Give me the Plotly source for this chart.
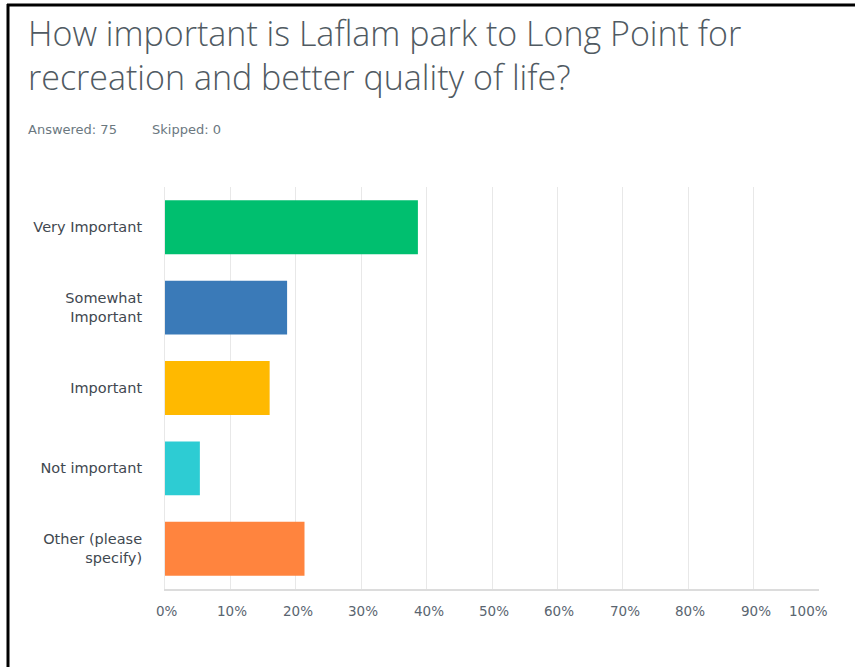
import plotly.graph_objects as go

categories = ["Very Important", "Somewhat<br>Important", "Important", "Not important", "Other (please<br>specify)"]
percent = [38.67, 18.67, 16.0, 5.33, 21.33]
colors = ["#00BF6F", "#3A7AB8", "#FFB900", "#2DCCD3", "#FF843E"]
tick_vals = [0, 10, 20, 30, 40, 50, 60, 70, 80, 90, 100]
tick_text = ["0%", "10%", "20%", "30%", "40%", "50%", "60%", "70%", "80%", "90%", "100%"]
title_lines = ["How important is Laflam park to Long Point for", "recreation and better quality of life?"]
answered_text = "Answered: 75"
skipped_text = "Skipped: 0"

W, H = 855, 667
L, R, T, B = 165, 36, 187, 78
pw, ph = W - L - R, H - T - B

fig = go.Figure(go.Bar(
    x=percent, y=categories, orientation="h",
    marker=dict(color=colors, line=dict(width=0)),
    hoverinfo="skip",
))

def px_x(p):
    return (p - L) / pw

def px_y(p):
    return 1 - (p - T) / ph

LABEL_FONT = "DejaVu Sans"

annotations = [
    dict(text="<br>".join(title_lines), xref="paper", yref="paper", x=px_x(26), y=px_y(55),
         xanchor="left", yanchor="middle", align="left", showarrow=False,
         font=dict(family="Open Sans", size=34, color="#505a62", weight=300)),
    dict(text=answered_text, xref="paper", yref="paper", x=px_x(26), y=px_y(129),
         xanchor="left", yanchor="middle", showarrow=False,
         font=dict(family=LABEL_FONT, size=13, color="#6b787f")),
    dict(text=skipped_text, xref="paper", yref="paper", x=px_x(150), y=px_y(129),
         xanchor="left", yanchor="middle", showarrow=False,
         font=dict(family=LABEL_FONT, size=13, color="#6b787f")),
]
for v, t in zip(tick_vals, tick_text):
    annotations.append(dict(
        text=t, xref="x", yref="paper", x=v, y=px_y(611),
        xanchor="center", yanchor="middle", showarrow=False,
        xshift=-11 if v == 100 else 2,
        font=dict(family=LABEL_FONT, size=13.5, color="#5a6570"),
    ))

fig.update_layout(
    width=W, height=H,
    margin=dict(l=L, r=R, t=T, b=B),
    paper_bgcolor="white", plot_bgcolor="white",
    bargap=0.33,
    showlegend=False,
    font=dict(family=LABEL_FONT, color="#333e48"),
    xaxis=dict(
        range=[0, 100], tickvals=tick_vals, showticklabels=False,
        showgrid=True, gridcolor="#e8e8e8", gridwidth=1,
        zeroline=False, showline=True, linecolor="#dcdcdc", linewidth=2,
        ticks="", fixedrange=True,
    ),
    yaxis=dict(
        autorange="reversed", showgrid=False, zeroline=False,
        showline=True, linecolor="#e8e8e8", linewidth=1,
        tickfont=dict(family=LABEL_FONT, size=14.5, color="#3f4850"),
        ticks="", ticklabelstandoff=19, fixedrange=True,
    ),
    annotations=annotations,
    shapes=[
        dict(type="line", xref="paper", yref="paper", x0=px_x(8), x1=px_x(8), y0=px_y(4), y1=px_y(667),
             line=dict(color="black", width=3)),
        dict(type="line", xref="paper", yref="paper", x0=px_x(7), x1=px_x(855), y0=px_y(5), y1=px_y(5),
             line=dict(color="black", width=3)),
    ],
)

fig.write_html("out.html")
